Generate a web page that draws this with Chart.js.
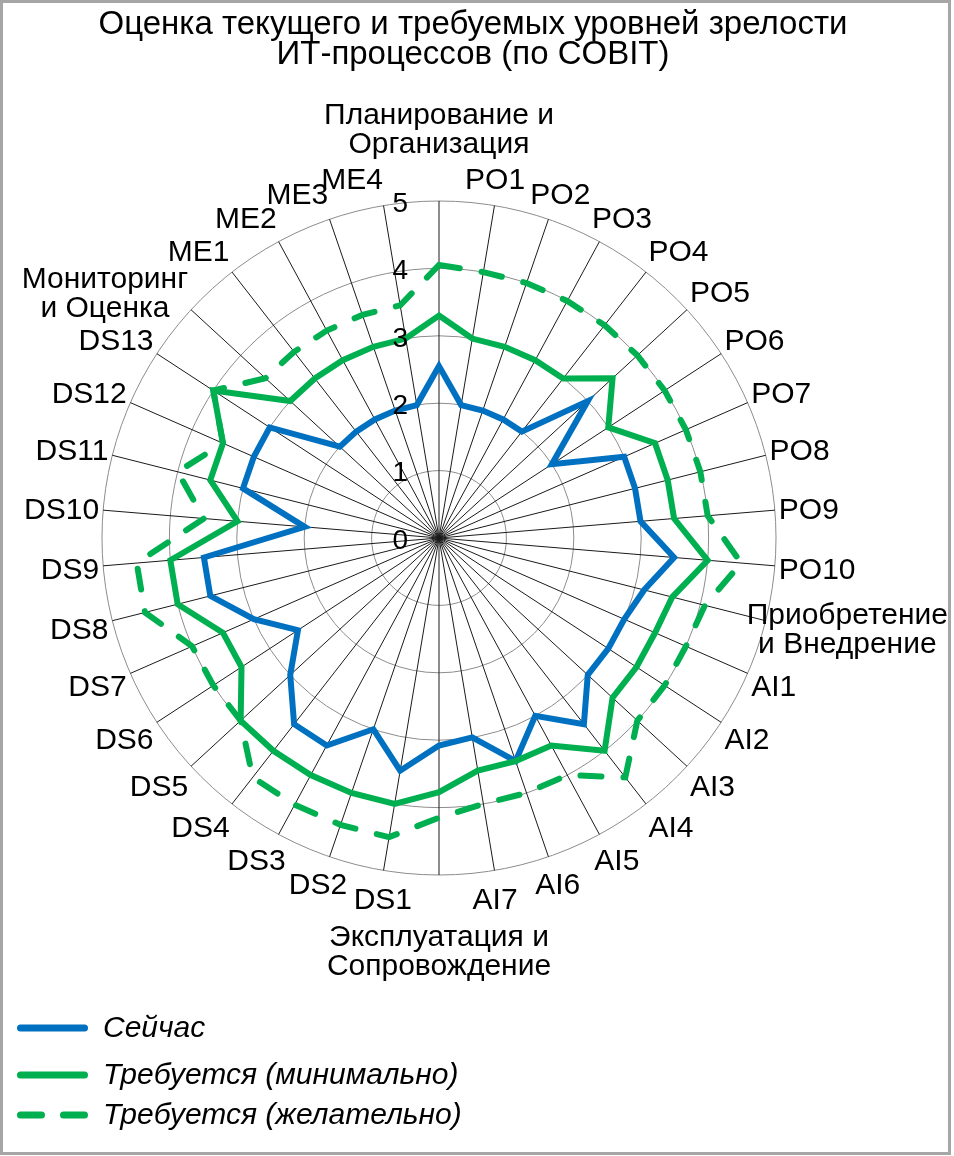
<!DOCTYPE html>
<html>
<head>
<meta charset="utf-8">
<script src="https://cdn.jsdelivr.net/npm/chart.js@4.4.1/dist/chart.umd.min.js"></script>
<style>
  html, body { margin: 0; padding: 0; background: #ffffff; }
  canvas { display: block; }
</style>
</head>
<body>
<canvas id="c" width="954" height="1156"></canvas>
<script>
// ---------------- data ----------------
const titleLines = ['Оценка текущего и требуемых уровней зрелости', 'ИТ-процессов (по COBIT)'];

const categories = [
  ['Планирование и', 'Организация'],
  'PO1', 'PO2', 'PO3', 'PO4', 'PO5', 'PO6', 'PO7', 'PO8', 'PO9', 'PO10',
  ['Приобретение', 'и Внедрение'],
  'AI1', 'AI2', 'AI3', 'AI4', 'AI5', 'AI6', 'AI7',
  ['Эксплуатация и', 'Сопровождение'],
  'DS1', 'DS2', 'DS3', 'DS4', 'DS5', 'DS6', 'DS7', 'DS8', 'DS9', 'DS10', 'DS11', 'DS12', 'DS13',
  ['Мониторинг', 'и Оценка'],
  'ME1', 'ME2', 'ME3', 'ME4'
];

const tickLabels = ['0', '1', '2', '3', '4', '5'];

const seriesNames = ['Сейчас', 'Требуется (минимально)', 'Требуется (желательно)'];

const current = [
  2.55,
  2, 2, 2, 2, 3, 2, 3, 3, 3, 3.5,
  3.14,
  3, 3, 3, 3.5, 3, 3.5, 3,
  3.08,
  3.5, 3, 3.5, 3.5, 3, 2.5, 3, 3.5, 3.5, 2, 3, 3, 3,
  2.0,
  2, 2, 2, 2
];

const requiredMin = [
  3.3,
  3, 3, 3, 3, 3.5, 3, 3.5, 3.5, 3.5, 4,
  3.57,
  3.5, 3.5, 3.5, 4, 3.5, 3.5, 3.5,
  3.77,
  4, 4, 4, 4, 4, 3.5, 3.5, 4, 4, 3, 3.5, 3.5, 4,
  3.0,
  3, 3, 3, 3
];

const requiredDesired = [
  4.05,
  4, 4, 4, 4, 4, 4, 4, 4, 4, 4.5,
  4.07,
  4, 4, 4, 4.5, 4, 4, 4,
  4.15,
  4.5, 4.5, 4.5, 4.5, 4, 4, 4, 4.5, 4.5, 3.5, 4, 3.5, 4,
  3.5,
  3.5, 3.5, 3.5, 3.5
];

// ---------------- style / layout ----------------
const FONT = '"Liberation Sans", Arial, Helvetica, sans-serif';
const BLUE = '#0070C0';
const GREEN = '#00B050';
const DASH = [21, 22];
const LEGEND_ROWS = [1028, 1075, 1115];

const excelDecor = {
  id: 'excelDecor',
  afterDraw(chart) {
    const ctx = chart.ctx;
    const r = chart.scales.r;
    const R = r.drawingArea;
    ctx.save();

    // frame
    ctx.strokeStyle = '#a6a6a6';
    ctx.lineWidth = 3;
    ctx.setLineDash([]);
    ctx.strokeRect(1.5, 1.5, 948, 1152);

    // title
    ctx.fillStyle = '#000000';
    ctx.textAlign = 'center';
    ctx.textBaseline = 'middle';
    ctx.font = '33px ' + FONT;
    titleLines.forEach((t, k) => ctx.fillText(t, 473, 25 + k * 30));

    // radial tick labels (left of the vertical axis)
    ctx.font = '28px ' + FONT;
    ctx.textAlign = 'right';
    r.ticks.forEach((t, k) => {
      const p = r.getPointPosition(0, r.getDistanceFromCenterForValue(t.value));
      ctx.fillText(tickLabels[k] !== undefined ? tickLabels[k] : String(t.value), r.xCenter - 31, p.y + 3);
    });

    // category labels, placed around the outer ring
    ctx.font = '30px ' + FONT;
    ctx.textAlign = 'center';
    chart.data.labels.forEach((lab, i) => {
      const lines = Array.isArray(lab) ? lab : [lab];
      const w = Math.max(...lines.map(s => ctx.measureText(s).width));
      const a = r.getIndexAngle(i);
      const s = Math.sin(a), c = Math.cos(a);
      const extra = (lines.length > 1 && Math.abs(c) > 0.99) ? 46 : 0;
      const my = r.getPointPosition(i, R + 28 + extra).y + 3;
      const ax = r.getPointPosition(i, R + 4).x;
      let sx = Math.sign(s) * Math.min(1, Math.max(0, (Math.abs(s) - 0.165) / 0.45));
      if (s < -0.01 && c > 0.01) sx = -1; // upper-left: keep clear of the value axis labels
      let cx = ax + sx * w / 2;
      cx = Math.min(948 - w / 2, Math.max(8 + w / 2, cx));
      lines.forEach((t, k) => ctx.fillText(t, cx, my + (k - (lines.length - 1) / 2) * 29));
    });

    // legend
    ctx.textAlign = 'left';
    chart.data.datasets.forEach((ds, k) => {
      const y = LEGEND_ROWS[k];
      ctx.strokeStyle = ds.borderColor;
      ctx.lineWidth = 7;
      ctx.lineCap = 'round';
      ctx.setLineDash(ds.borderDash || []);
      ctx.beginPath();
      ctx.moveTo(20.5, y);
      ctx.lineTo(84.5, y);
      ctx.stroke();
      ctx.setLineDash([]);
      ctx.fillStyle = '#000000';
      ctx.font = 'italic 30px ' + FONT;
      ctx.fillText(ds.label, 103, y + 1);
    });

    ctx.restore();
  }
};

new Chart(document.getElementById('c'), {
  type: 'radar',
  data: {
    labels: categories,
    datasets: [
      {
        label: seriesNames[0], data: current,
        borderColor: BLUE, backgroundColor: BLUE, borderWidth: 6,
        pointRadius: 0, pointHoverRadius: 0, fill: false, order: 3
      },
      {
        label: seriesNames[1], data: requiredMin,
        borderColor: GREEN, backgroundColor: GREEN, borderWidth: 6,
        pointRadius: 0, pointHoverRadius: 0, fill: false, order: 2
      },
      {
        label: seriesNames[2], data: requiredDesired,
        borderColor: GREEN, backgroundColor: GREEN, borderWidth: 6,
        borderDash: DASH, borderCapStyle: 'round',
        pointRadius: 0, pointHoverRadius: 0, fill: false, order: 1
      }
    ]
  },
  options: {
    responsive: false,
    animation: false,
    devicePixelRatio: 1,
    layout: { padding: { left: 102, right: 178, top: 201, bottom: 281 } },
    plugins: {
      legend: { display: false },
      title: { display: false },
      tooltip: { enabled: false }
    },
    elements: { line: { tension: 0 } },
    scales: {
      r: {
        min: 0,
        max: 5,
        beginAtZero: true,
        ticks: { stepSize: 1, display: false },
        pointLabels: { display: false },
        grid: { circular: true, color: '#8c8c8c', lineWidth: 1 },
        angleLines: { display: true, color: '#1a1a1a', lineWidth: 1 }
      }
    }
  },
  plugins: [excelDecor]
});
</script>
</body>
</html>
